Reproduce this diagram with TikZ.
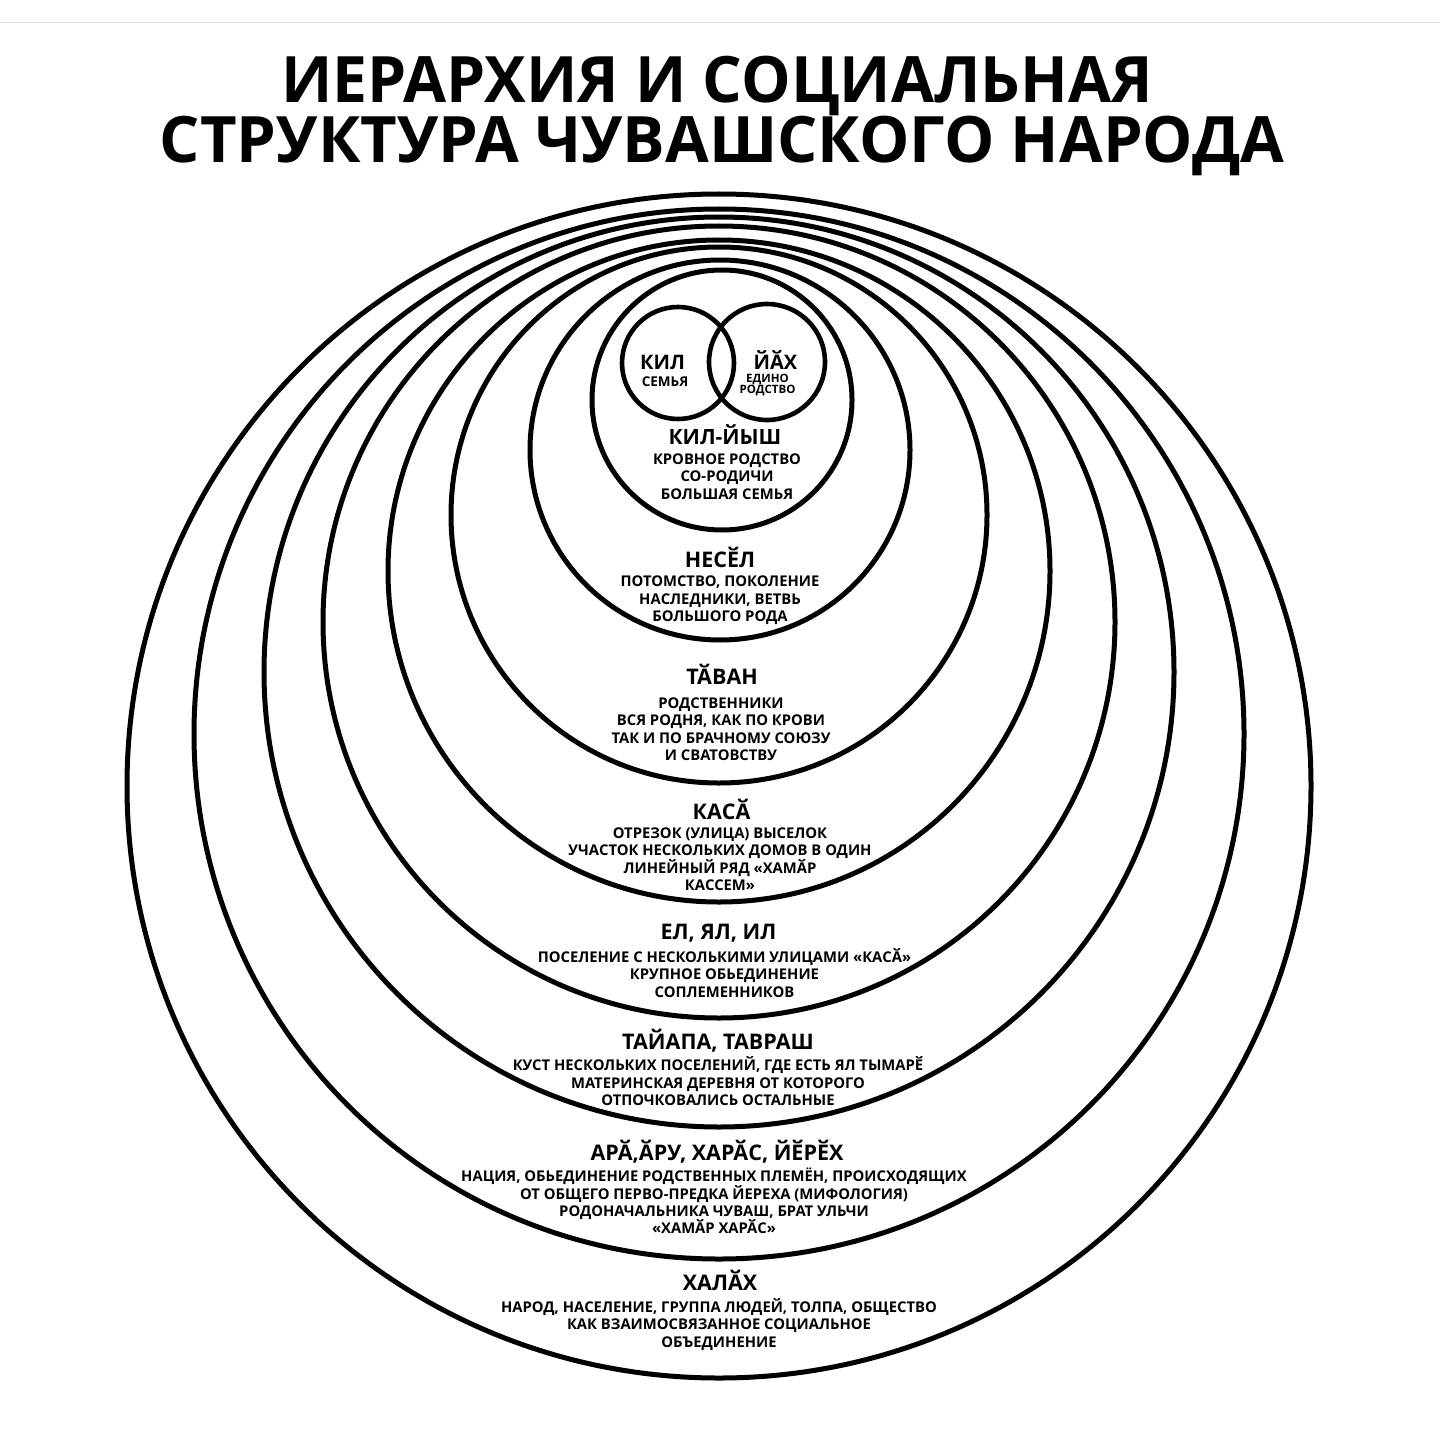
\documentclass[tikz,border=0pt]{standalone}
\usepackage{fontspec}
\usepackage{graphicx}
\setmainfont{Open Sans}
\begin{document}
\begin{tikzpicture}[x=1pt,y=-1pt,
  ring/.style={draw=black,line width=5pt},
  small/.style={draw=black,line width=4.6pt},
  ttl/.style={font=\fontsize{64}{70}\selectfont\bfseries,inner sep=0pt},
  head/.style={font=\fontsize{21.5}{24}\selectfont\bfseries,inner sep=0pt,text height=15.4pt,text depth=0pt},
  body/.style={font=\fontsize{14.8}{17.4}\selectfont\bfseries,align=center,inner sep=0pt,
    execute at begin node=\rule{0pt}{14pt},execute at end node=\rule[-4pt]{0pt}{4pt}},
]
\useasboundingbox (0,0) rectangle (1440,1455);
\fill[white] (0,0) rectangle (1440,1455);
\coordinate (tl) at (0,22.5);
\coordinate (tr) at (1440,22.5);
\draw[black!12,line width=1pt] (tl) -- (tr);

% title
\node[ttl] (t1) at (717,86) {\scalebox{0.975}[1]{ИЕРАРХИЯ И СОЦИАЛЬНАЯ}};
\node[ttl] (t2) at (722,146) {\scalebox{0.99}[1]{СТРУКТУРА ЧУВАШСКОГО НАРОДА}};

% nested circles
\draw[ring] (719,786) circle[radius=592pt];
\draw[ring] (719,734) circle[radius=525pt];
\draw[ring] (719,672) circle[radius=455pt];
\draw[ring] (719,622) circle[radius=396pt];
\draw[ring] (719,571) circle[radius=331pt];
\draw[ring] (719,515) circle[radius=268pt];
\draw[ring] (720,450) circle[radius=190pt];
\draw[ring] (722,400) circle[radius=130pt];
% two small circles
\draw[small] (678,363) circle[radius=56pt];
\draw[small] (767,362) circle[radius=58pt];

% inner labels
\node[font=\fontsize{20}{22}\selectfont\bfseries,inner sep=0pt,text height=14.3pt,text depth=0pt] (kil) at (662.5,362) {КИЛ};
\node[font=\fontsize{13.5}{14}\selectfont\bfseries,inner sep=0pt,text height=9.6pt,text depth=0pt] (kils) at (665,382) {СЕМЬЯ};
\node[font=\fontsize{20}{22}\selectfont\bfseries,inner sep=0pt,text height=14.3pt,text depth=0pt] (yah) at (775.5,362) {ЙӐХ};
\node[font=\fontsize{11.5}{11}\selectfont\bfseries,align=center,inner sep=0pt] (yahs) at (767.5,385) {ЕДИНО\\РОДСТВО};

\node[head,font=\fontsize{21}{24}\selectfont\bfseries] (h1) at (725,437) {КИЛ-ЙЫШ};
\node[body] (b1) at (727,478.3) {КРОВНОЕ РОДСТВО\\СО-РОДИЧИ\\БОЛЬШАЯ СЕМЬЯ};

\node[head] (h2) at (720,560) {НЕСӖЛ};
\node[body] (b2) at (720,601) {ПОТОМСТВО, ПОКОЛЕНИЕ\\НАСЛЕДНИКИ, ВЕТВЬ\\БОЛЬШОГО РОДА};

\node[head] (h3) at (722,677) {ТӐВАН};
\node[body] (b3) at (721,731) {РОДСТВЕННИКИ\\ВСЯ РОДНЯ, КАК ПО КРОВИ\\ТАК И ПО БРАЧНОМУ СОЮЗУ\\И СВАТОВСТВУ};

\node[head] (h4) at (721.5,812) {КАСӐ};
\node[body] (b4) at (720,861) {ОТРЕЗОК (УЛИЦА) ВЫСЕЛОК\\УЧАСТОК НЕСКОЛЬКИХ ДОМОВ В ОДИН\\ЛИНЕЙНЫЙ РЯД «ХАМӐР\\КАССЕМ»};

\node[head] (h5) at (718.5,932) {ЕЛ, ЯЛ, ИЛ};
\node[body] (b5) at (724.5,974.7) {ПОСЕЛЕНИЕ С НЕСКОЛЬКИМИ УЛИЦАМИ «КАСӐ»\\КРУПНОЕ ОБЬЕДИНЕНИЕ\\СОПЛЕМЕННИКОВ};

\node[head] (h6) at (718,1042) {ТАЙАПА, ТАВРАШ};
\node[body] (b6) at (718,1083.3) {КУСТ НЕСКОЛЬКИХ ПОСЕЛЕНИЙ, ГДЕ ЕСТЬ ЯЛ ТЫМАРӖ\\МАТЕРИНСКАЯ ДЕРЕВНЯ ОТ КОТОРОГО\\ОТПОЧКОВАЛИСЬ ОСТАЛЬНЫЕ};

\node[head] (h7) at (717,1153) {АРӐ,ӐРУ, ХАРӐС, ЙӖРӖХ};
\node[body] (b7) at (714,1203) {НАЦИЯ, ОБЬЕДИНЕНИЕ РОДСТВЕННЫХ ПЛЕМЁН, ПРОИСХОДЯЩИХ\\ОТ ОБЩЕГО ПЕРВО-ПРЕДКА ЙЕРЕХА (МИФОЛОГИЯ)\\РОДОНАЧАЛЬНИКА ЧУВАШ, БРАТ УЛЬЧИ\\«ХАМӐР ХАРӐС»};

\node[head] (h8) at (720,1283) {ХАЛӐХ};
\node[body] (b8) at (719,1324.7) {НАРОД, НАСЕЛЕНИЕ, ГРУППА ЛЮДЕЙ, ТОЛПА, ОБЩЕСТВО\\КАК ВЗАИМОСВЯЗАННОЕ СОЦИАЛЬНОЕ\\ОБЪЕДИНЕНИЕ};
\end{tikzpicture}
\end{document}
